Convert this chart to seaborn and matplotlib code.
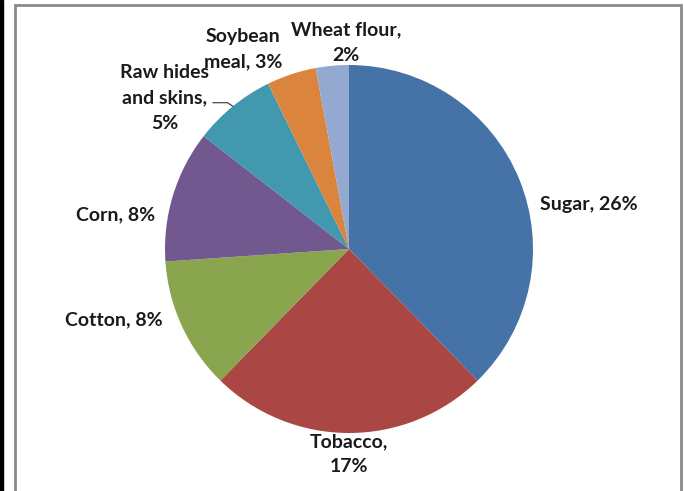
import numpy as np
import matplotlib
matplotlib.use("Agg")
from matplotlib import pyplot as plt
from matplotlib.patches import Rectangle
import seaborn as sns

# data
crops = ["Sugar", "Tobacco", "Cotton", "Corn", "Raw hides\nand skins", "Soybean\nmeal", "Wheat flour"]
shares = [26, 17, 8, 8, 5, 3, 2]
colors = ["#4572A7", "#AA4643", "#89A54E", "#71588F", "#4198AF", "#DB843D", "#93A9CF"]

# label text
labels = ["Sugar, 26%", "Tobacco,\n17%", "Cotton, 8%", "Corn, 8%",
          "Raw hides\nand skins,\n5%", "Soybean\nmeal, 3%", "Wheat flour,\n2%"]

sns.set_style("white")
plt.rcParams['font.family'] = ['Lato', 'DejaVu Sans']

W, H = 684, 491
cx, cy, R = 349, 249, 184   # pie centre / radius in pixels

fig = plt.figure(figsize=(W / 100, H / 100), dpi=100)
ax = fig.add_axes([0, 0, 1, 1])
ax.pie(shares, colors=colors, startangle=90, counterclock=False,
       radius=1, wedgeprops=dict(linewidth=0))
ax.set_aspect('auto')
ax.set_xlim(-cx / R, (W - cx) / R)
ax.set_ylim(-(H - cy) / R, cy / R)
ax.axis('off')

# label placement (offset from centre, radius units) and alignment
label_pos = [(1.04, 0.24, 'left'), (0.0, -1.115, 'center'), (-1.015, -0.385, 'right'),
             (-1.055, 0.185, 'right'), (-1.0, 0.82, 'center'), (-0.576, 1.087, 'center'),
             (-0.016, 1.12, 'center')]
for lab, (x, y, ha) in zip(labels, label_pos):
    ax.text(x, y, lab, ha=ha, va='center', fontsize=14, fontweight='bold',
            color='#1a1a1a', linespacing=1.6)

# leader line for raw hides
ang = np.deg2rad(90 - 360 * (sum(shares[:4]) + shares[4] / 2) / sum(shares))
ex, ey = np.cos(ang), np.sin(ang)
ax.plot([-0.74, -0.66, ex], [0.795, 0.795, ey], color='#333333', lw=0.8)

# frame
fig.patches.append(Rectangle((15 / W, -0.1), (681 - 15) / W, 1.1 - 5 / H,
                             transform=fig.transFigure, fill=False,
                             edgecolor='#8a8a8a', linewidth=2))
fig.patches.append(Rectangle((0, 0), 3 / W, 1, transform=fig.transFigure,
                             color='black'))

fig.savefig("out.png", dpi=100)
